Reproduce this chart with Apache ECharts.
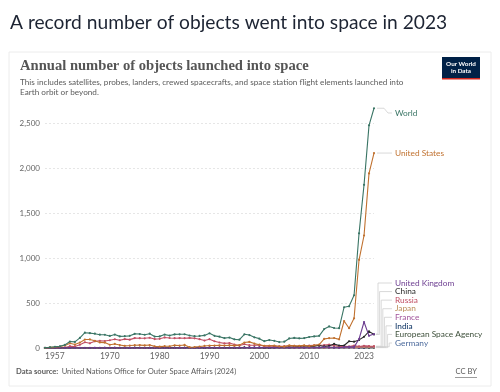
<!DOCTYPE html>
<html><head><meta charset="utf-8">
<script src="https://cdn.jsdelivr.net/npm/echarts@6/dist/echarts.min.js"></script>
<style>html,body{margin:0;padding:0;background:#fff}#c{width:500px;height:392px}</style>
</head><body><div id="c"></div>
<script>
const years = ['1957','1958','1959','1960','1961','1962','1963','1964','1965','1966',
'1967','1968','1969','1970','1971','1972','1973','1974','1975','1976',
'1977','1978','1979','1980','1981','1982','1983','1984','1985','1986',
'1987','1988','1989','1990','1991','1992','1993','1994','1995','1996',
'1997','1998','1999','2000','2001','2002','2003','2004','2005','2006',
'2007','2008','2009','2010','2011','2012','2013','2014','2015','2016',
'2017','2018','2019','2020','2021','2022','2023'];
const xTickLabels = ['1957','1970','1980','1990','2000','2010','2023'];
const yTicks = [0,500,1000,1500,2000,2500];

const world = [2,8,14,19,35,72,68,112,170,165,
159,148,147,134,149,129,131,135,157,155,
147,159,127,129,149,138,151,152,153,139,
131,134,140,163,135,126,110,116,96,92,
152,144,119,104,76,88,80,66,70,106,
112,107,110,122,129,135,210,240,222,220,
453,463,586,1274,1813,2474,2664];
const unitedStates = [0,7,11,16,29,52,38,60,94,95,
80,62,60,36,45,33,24,27,31,32,
29,33,18,15,20,19,30,27,34,9,
11,16,23,27,28,29,28,31,26,32,
61,68,49,37,25,25,26,17,15,29,
24,24,29,20,29,38,101,109,111,96,
300,220,330,980,1250,1940,2166];
const unitedKingdom = [0,0,0,0,0,1,0,1,0,0,
1,0,1,0,2,0,0,1,0,0,
0,0,1,0,0,0,0,1,0,0,
0,1,2,2,2,1,0,0,2,2,
3,4,4,5,3,2,4,2,3,3,
2,3,4,3,4,4,9,9,6,3,
10,12,10,100,289,135,155];
const china = [0,0,0,0,0,0,0,0,0,0,
0,0,0,1,1,0,0,0,3,2,
0,1,1,0,3,1,1,3,2,2,
2,4,1,5,1,3,1,2,1,3,
6,6,4,5,1,1,5,7,10,8,
11,12,9,17,21,27,17,24,45,28,
28,75,70,90,125,185,150];
const russia = [2,1,3,3,6,20,17,36,64,52,
74,80,78,86,97,86,99,93,110,109,
108,114,99,102,117,111,109,110,109,112,
108,98,83,98,75,61,51,55,38,28,
42,31,30,33,21,24,18,19,20,22,
23,17,25,28,30,30,32,37,27,18,
20,16,26,17,24,21,20];
const japan = [0,0,0,0,0,0,0,0,0,0,
0,0,0,1,2,1,0,2,2,1,
3,3,2,2,3,3,3,3,2,2,
3,2,2,4,2,1,2,1,2,4,
3,3,0,2,2,7,3,1,3,6,
4,3,7,4,3,4,3,8,9,6,
8,16,10,12,14,13,15];
const france = [0,0,0,0,0,0,0,0,1,2,
2,0,0,2,2,0,0,1,3,1,
1,1,0,0,1,1,1,2,2,1,
1,3,3,4,3,3,2,2,4,3,
3,2,3,4,4,3,3,3,3,2,
2,2,3,4,2,3,4,3,5,3,
4,6,4,5,8,10,9];
const india = [0,0,0,0,0,0,0,0,0,0,
0,0,0,0,0,0,0,0,1,0,
0,0,1,1,2,1,1,0,0,0,
1,2,0,1,1,2,1,1,1,1,
1,1,1,1,2,2,2,1,2,0,
2,3,2,2,4,3,5,5,5,11,
15,9,10,3,4,8,10];
const esa = [0,0,0,0,0,0,0,0,0,0,
0,1,1,0,0,1,0,0,2,0,
2,2,1,0,1,1,2,1,2,0,
1,2,2,3,2,1,1,2,2,1,
2,2,3,2,2,2,4,2,3,2,
3,3,4,2,4,3,4,5,4,5,
4,5,3,4,5,3,4];
const germany = [0,0,0,0,0,0,0,0,0,0,
0,0,1,0,0,1,1,1,1,1,
0,0,0,0,0,0,0,1,1,0,
0,1,1,2,1,1,0,0,1,2,
1,1,2,2,1,2,1,0,2,1,
3,2,2,4,1,2,2,3,4,2,
9,10,10,13,20,15,14];

const seriesNames = ['World','United States','United Kingdom','China','Russia','Japan','France','India','European Space Agency','Germany'];
const seriesData = [world, unitedStates, unitedKingdom, china, russia, japan, france, india, esa, germany];
const seriesColors = ['#3a7565','#c0712f','#6d3e91','#2a2a2a','#c15065','#bc8e5a','#a2559c','#00295b','#3d4f3a','#4c6a9c'];

const FONT = 'Lato, "Noto Sans", sans-serif';
const chart = echarts.init(document.getElementById('c'));

const series = seriesNames.map((n,i)=>({
  name:n, type:'line', data:seriesData[i], symbol:'circle', symbolSize:2.2,
  showSymbol:true, lineStyle:{width:1.1, color:seriesColors[i]},
  itemStyle:{color:seriesColors[i]}, z: 10 - i, animation:false
}));

chart.setOption({
  animation:false,
  grid:{left:45, right:126, top:100.5, bottom:44},
  xAxis:{type:'category', data:years, boundaryGap:false,
    axisLine:{show:true, lineStyle:{color:'#999', width:0.8}},
    axisTick:{show:false},
    axisLabel:{interval:(idx,val)=>xTickLabels.indexOf(val)>=0, color:'#666', fontFamily:FONT, fontSize:8.5, margin:4,
      alignMinLabel:'left', alignMaxLabel:'right'},
    splitLine:{show:false}},
  yAxis:{type:'value', min:0, max:2750, interval:500,
    axisLine:{show:false}, axisTick:{show:false},
    axisLabel:{color:'#666', fontFamily:FONT, fontSize:8, margin:5, showMaxLabel:false,
      formatter:v=> yTicks.indexOf(v)>=0 ? v.toLocaleString('en-US') : ''},
    splitLine:{show:true, showMaxLine:false, lineStyle:{color:'#e0e0e0', type:[2,2], width:0.8}}},
  series
});

const last = years.length - 1;
const P = (v)=>chart.convertToPixel({gridIndex:0},[last, v]);
const g = [];
g.push({type:'rect', z:-5, shape:{x:9,y:52,width:482,height:334}, style:{fill:'#fff', stroke:'#ececec', lineWidth:1}});
g.push({type:'text', x:10, y:23, style:{text:'A record number of objects went into space in 2023', font:'19.2px '+FONT, fill:'#1d2433', verticalAlign:'middle'}});
g.push({type:'text', x:20, y:66, style:{text:'Annual number of objects launched into space', font:'bold 14.6px "Liberation Serif", "DejaVu Serif", serif', fill:'#555', verticalAlign:'middle'}});
g.push({type:'text', x:20, y:82, style:{text:'This includes satellites, probes, landers, crewed spacecrafts, and space station flight elements launched into', font:'8.2px '+FONT, fill:'#5b5b5b', verticalAlign:'middle'}});
g.push({type:'text', x:20, y:92.5, style:{text:'Earth orbit or beyond.', font:'8.2px '+FONT, fill:'#5b5b5b', verticalAlign:'middle'}});
g.push({type:'rect', shape:{x:442,y:57,width:38,height:22}, style:{fill:'#002147'}});
g.push({type:'rect', shape:{x:442,y:78,width:38,height:1.5}, style:{fill:'#ce261e'}});
g.push({type:'text', x:461, y:67.5, style:{text:'Our World\nin Data', font:'bold 6.3px '+FONT, fill:'#fff', align:'center', verticalAlign:'middle', lineHeight:7}});
g.push({type:'text', x:16, y:372, style:{rich:{b:{fontWeight:'bold', fontSize:7.6, fontFamily:FONT, fill:'#5b5b5b'}, n:{fontSize:7.6, fontFamily:FONT, fill:'#5b5b5b'}}, text:'{b|Data source:} {n|United Nations Office for Outer Space Affairs (2024)}', verticalAlign:'middle'}});
g.push({type:'text', x:477, y:372, style:{text:'CC BY', font:'7.6px '+FONT, fill:'#5b5b5b', align:'right', verticalAlign:'middle'}});
g.push({type:'rect', shape:{x:455,y:377,width:22,height:0.6}, style:{fill:'#5b5b5b'}});

const labelX = 395;
seriesNames.forEach((n,i)=>{
  const p = P(seriesData[i][last]);
  let ly;
  if (i===0) ly = 113;
  else if (i===1) ly = p[1];
  else ly = 283 + (i-2)*8.57;
  let pts;
  if (i < 2) {
    pts = [[p[0]+3,p[1]],[p[0]+10,p[1]],[p[0]+14,ly],[labelX-3,ly]];
  } else {
    const mx = 378 + (i-2)*1.6;
    pts = [[p[0]+2,p[1]],[mx,p[1]],[mx,ly],[labelX-3,ly]];
  }
  g.push({type:'polyline', shape:{points:pts}, style:{stroke:'#cfcfcf', lineWidth:0.8, fill:null}});
  g.push({type:'text', x:labelX, y:ly, style:{text:n, font:'8.3px '+FONT, fill:seriesColors[i], verticalAlign:'middle'}});
});
chart.setOption({graphic:{elements:g}});
</script></body></html>
